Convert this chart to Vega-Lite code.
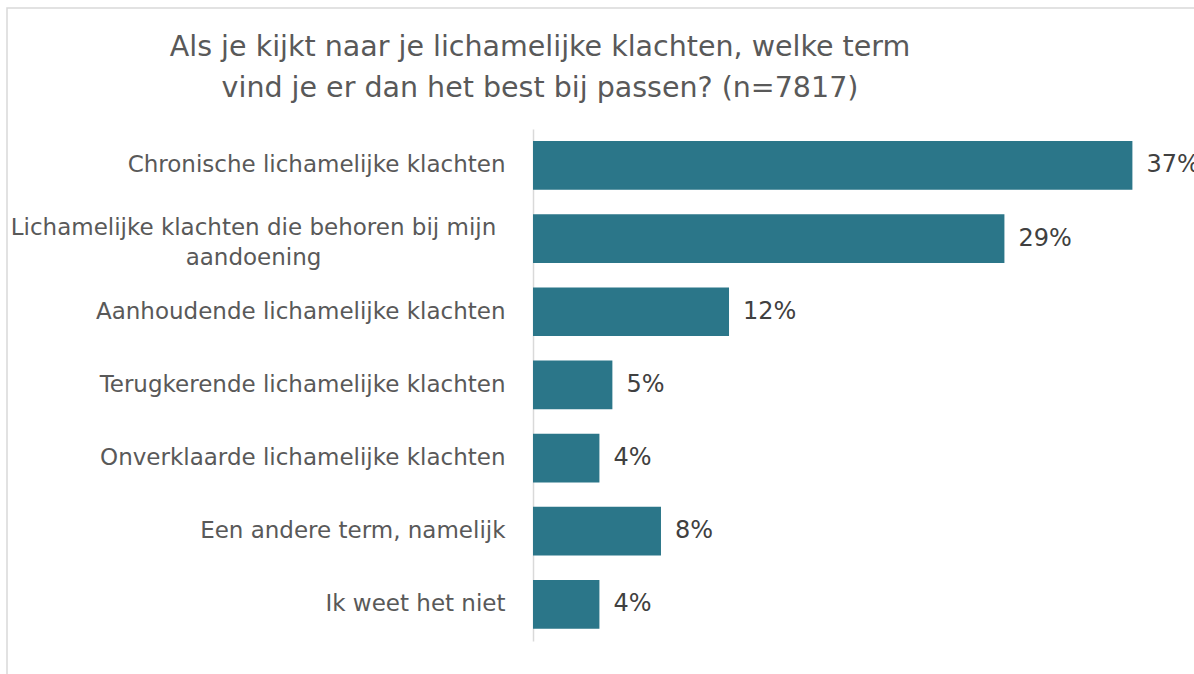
{
  "$schema": "https://vega.github.io/schema/vega-lite/v6.json",
  "width": 1200,
  "height": 680,
  "autosize": {"type": "none"},
  "padding": {"left": 7, "top": 8, "right": 0, "bottom": 0},
  "background": "white",
  "config": {
    "view": {"stroke": "#d9d9d9", "strokeWidth": 1.5},
    "font": "DejaVu Sans"
  },
  "title": {
    "text": ["Als je kijkt naar je lichamelijke klachten, welke term", "vind je er dan het best bij passen? (n=7817)"],
    "font": "DejaVu Sans",
    "fontSize": 28.5,
    "fontWeight": "normal",
    "color": "#595959",
    "anchor": "middle",
    "frame": "group",
    "baseline": "alphabetic",
    "lineHeight": 41,
    "offset": 0,
    "dx": -67,
    "dy": 117
  },
  "data": {
    "values": [
      {"term": "Chronische lichamelijke klachten", "pct": 0.370},
      {"term": "Lichamelijke klachten die behoren bij mijn aandoening", "pct": 0.291},
      {"term": "Aanhoudende lichamelijke klachten", "pct": 0.121},
      {"term": "Terugkerende lichamelijke klachten", "pct": 0.049},
      {"term": "Onverklaarde lichamelijke klachten", "pct": 0.041},
      {"term": "Een andere term, namelijk", "pct": 0.079},
      {"term": "Ik weet het niet", "pct": 0.041}
    ]
  },
  "encoding": {
    "y": {
      "field": "term",
      "type": "nominal",
      "sort": null,
      "scale": {"range": [120.9, 632.9], "paddingInner": 0.334, "paddingOuter": 0.167},
      "axis": {
        "title": null,
        "offset": -526,
        "domainColor": "#d9d9d9",
        "domainWidth": 1.5,
        "ticks": false,
        "labelPadding": {"condition": {"test": "datum.value == 'Lichamelijke klachten die behoren bij mijn aandoening'", "value": 280}, "value": 28},
        "labelAlign": {"condition": {"test": "datum.value == 'Lichamelijke klachten die behoren bij mijn aandoening'", "value": "center"}, "value": "right"},
        "labelOffset": {"condition": {"test": "datum.value == 'Lichamelijke klachten die behoren bij mijn aandoening'", "value": -11}, "value": 0},
        "labelFontSize": 23,
        "labelColor": "#595959",
        "labelLimit": 700,
        "labelLineHeight": 30,
        "labelExpr": "datum.value == 'Lichamelijke klachten die behoren bij mijn aandoening' ? ['Lichamelijke klachten die behoren bij mijn', 'aandoening'] : datum.value"
      }
    },
    "x": {
      "field": "pct",
      "type": "quantitative",
      "scale": {"domain": [0, 1], "range": [526, 2146], "nice": false, "zero": true},
      "axis": null
    }
  },
  "layer": [
    {"mark": {"type": "bar", "color": "#2b7689"}},
    {
      "mark": {"type": "text", "align": "left", "baseline": "middle", "dx": 14, "fontSize": 24, "color": "#404040"},
      "encoding": {"text": {"field": "pct", "type": "quantitative", "format": ".0%"}}
    }
  ]
}
